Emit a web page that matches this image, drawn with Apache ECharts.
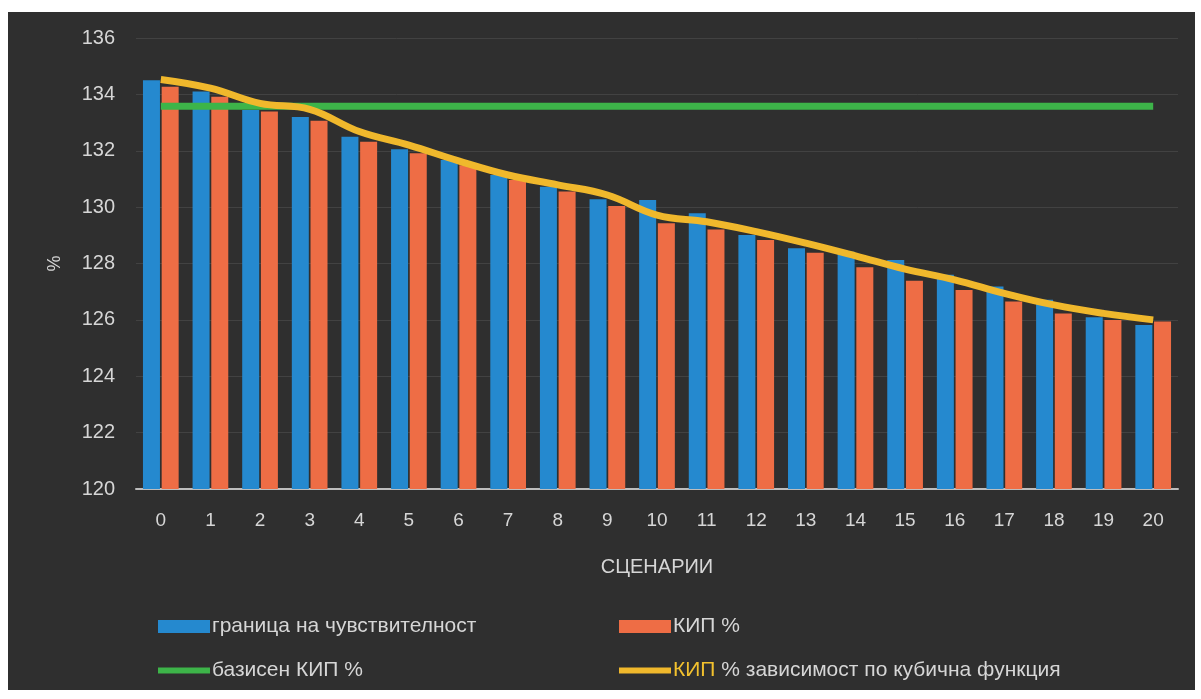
<!DOCTYPE html>
<html><head><meta charset="utf-8">
<script src="https://cdn.jsdelivr.net/npm/echarts@6/dist/echarts.min.js"></script>
<style>
html,body{margin:0;padding:0;background:#ffffff;width:1201px;height:699px;overflow:hidden;}
#c{position:absolute;left:8px;top:12px;width:1187px;height:678px;}
</style></head>
<body><div id="c"></div>
<script>
const categories = ['0','1','2','3','4','5','6','7','8','9','10','11','12','13','14','15','16','17','18','19','20'];
const sensitivity = [134.5,134.1,133.45,133.2,132.5,132.05,131.67,131.14,130.72,130.28,130.25,129.78,129.01,128.54,128.42,128.12,127.6,127.18,126.71,126.09,125.82];
const kip = [134.27,133.92,133.39,133.06,132.32,131.91,131.49,130.96,130.55,130.04,129.43,129.21,128.83,128.38,127.87,127.39,127.06,126.65,126.23,126.0,125.94];
const baseKip = [133.58,133.58,133.58,133.58,133.58,133.58,133.58,133.58,133.58,133.58,133.58,133.58,133.58,133.58,133.58,133.58,133.58,133.58,133.58,133.58,133.58];
const cubicKip = [134.53,134.22,133.68,133.47,132.68,132.2,131.64,131.14,130.79,130.43,129.72,129.48,129.13,128.72,128.27,127.8,127.42,126.94,126.53,126.23,126.0];
const yTicks = {min:120, max:136, interval:2};
const names = ['граница на чувствителност','КИП %','базисен КИП %','КИП % зависимост по кубична функция'];

const FONT = "'Liberation Sans', Arial, sans-serif";
const TXT = '#d6d6d6';
const LF = 21;
const chart = echarts.init(document.getElementById('c'));
function leg(name, left, top, h){
  return {data:[{name:name, icon:'rect'}], left:left, top:top, itemWidth:52, itemHeight:h, itemGap:0,
    textStyle:{color:TXT, fontFamily:FONT, fontSize:LF, padding:[0,0,0,-3],
      rich:{y:{color:'#f2c12e', fontFamily:FONT, fontSize:LF}, n:{color:TXT, fontFamily:FONT, fontSize:LF}}},
    formatter: function(n){ if(n===names[3]) return '{y|КИП}{n| % зависимост по кубична функция}'; return n; }};
}
chart.setOption({
  backgroundColor:'#2f2f2f',
  animation:false,
  grid:{left:128, right:17, top:26, bottom:201, containLabel:false},
  legend:[leg(names[0],145,599,13), leg(names[1],606,599,13), leg(names[2],145,643,6), leg(names[3],606,643,6)],
  xAxis:{type:'category', data:categories, name:'СЦЕНАРИИ', nameLocation:'middle', nameGap:68,
    nameTextStyle:{color:TXT, fontFamily:FONT, fontSize:20},
    axisLine:{lineStyle:{color:'#bdbdbd', width:2}}, axisTick:{show:false},
    axisLabel:{color:TXT, fontFamily:FONT, fontSize:19, margin:22}},
  yAxis:{type:'value', min:yTicks.min, max:yTicks.max, interval:yTicks.interval, name:'%', nameLocation:'middle', nameGap:72,
    nameTextStyle:{color:TXT, fontFamily:FONT, fontSize:18},
    axisLine:{show:false}, axisTick:{show:false},
    axisLabel:{color:TXT, fontFamily:FONT, fontSize:20, margin:21},
    splitLine:{lineStyle:{color:'#424242', width:1}}},
  series:[
    {name:names[0], type:'bar', data:sensitivity, barWidth:17, barGap:'10%', itemStyle:{color:'#2589cf'}},
    {name:names[1], type:'bar', data:kip, barWidth:17, itemStyle:{color:'#ee6d45'}},
    {name:names[2], type:'line', data:baseKip, showSymbol:false, symbol:'none', lineStyle:{color:'#3db449', width:7}, itemStyle:{color:'#3db449'}},
    {name:names[3], type:'line', data:cubicKip, smooth:0.4, showSymbol:false, symbol:'none', lineStyle:{color:'#f0b82c', width:7}, itemStyle:{color:'#f0b82c'}, z:5}
  ]
});
</script></body></html>
